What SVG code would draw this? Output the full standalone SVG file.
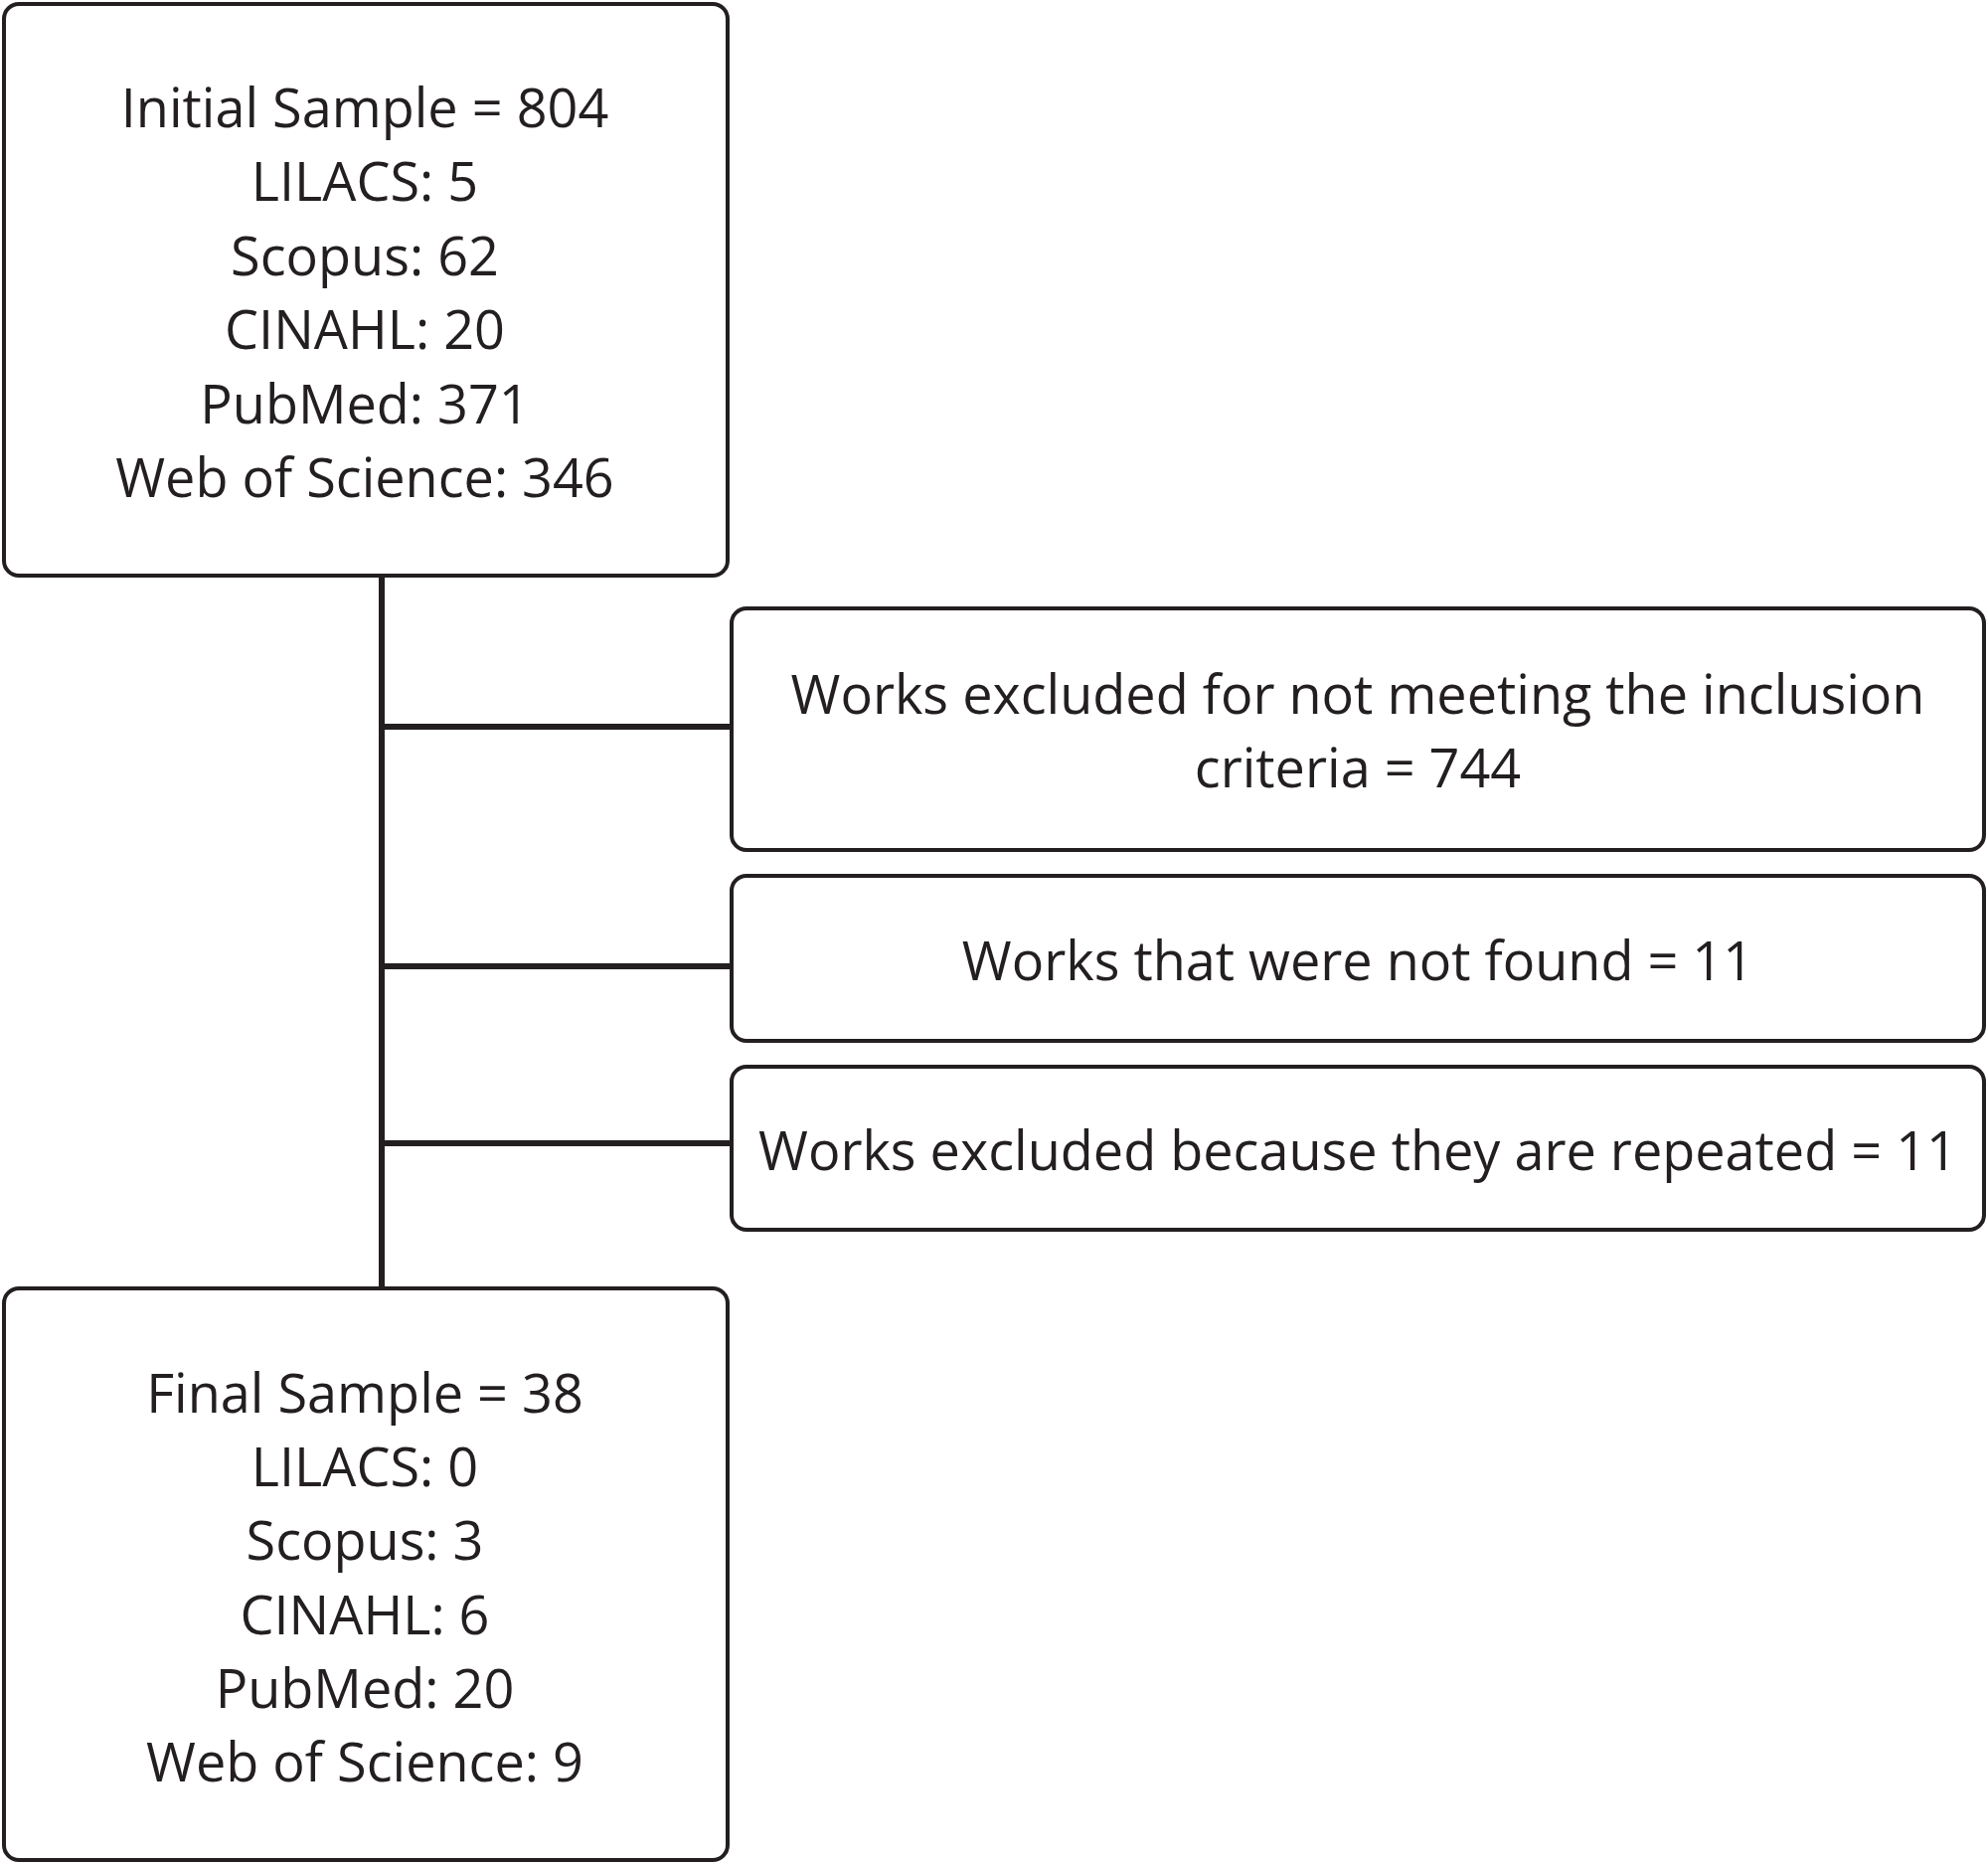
<svg xmlns="http://www.w3.org/2000/svg" width="2000" height="1875" viewBox="0 0 2000 1875">
<style>
.b{fill:#fff;stroke:#231f20;stroke-width:4}
.c{stroke:#231f20;stroke-width:6;fill:none}
text{font-family:"Open Sans","Liberation Sans",sans-serif;font-size:54px;fill:#231f20;text-anchor:middle}
</style>
<rect width="2000" height="1875" fill="#fff"/>
<g id="connectors">
<line class="c" x1="384" y1="579" x2="384" y2="1296"/>
<line class="c" x1="384" y1="731" x2="736" y2="731"/>
<line class="c" x1="384" y1="972" x2="736" y2="972"/>
<line class="c" x1="384" y1="1150" x2="736" y2="1150"/>
</g>
<g id="initial">
<rect class="b" x="4" y="4" width="728" height="575" rx="15"/>
<text x="367" y="128">Initial Sample = 804</text>
<text x="367" y="202">LILACS: 5</text>
<text x="367" y="277">Scopus: 62</text>
<text x="367" y="351">CINAHL: 20</text>
<text x="367" y="426">PubMed: 371</text>
<text x="367" y="500">Web of Science: 346</text>
</g>
<g id="excl1">
<rect class="b" x="736" y="612" width="1260" height="243" rx="15"/>
<text x="1366" y="718">Works excluded for not meeting the inclusion</text>
<text x="1366" y="792">criteria = 744</text>
</g>
<g id="excl2">
<rect class="b" x="736" y="881" width="1260" height="166" rx="15"/>
<text x="1366" y="986">Works that were not found = 11</text>
</g>
<g id="excl3">
<rect class="b" x="736" y="1073" width="1260" height="164" rx="15"/>
<text x="1366" y="1177">Works excluded because they are repeated = 11</text>
</g>
<g id="final">
<rect class="b" x="4" y="1296" width="728" height="575" rx="15"/>
<text x="367" y="1421">Final Sample = 38</text>
<text x="367" y="1495">LILACS: 0</text>
<text x="367" y="1569">Scopus: 3</text>
<text x="367" y="1644">CINAHL: 6</text>
<text x="367" y="1718">PubMed: 20</text>
<text x="367" y="1792">Web of Science: 9</text>
</g>
</svg>
